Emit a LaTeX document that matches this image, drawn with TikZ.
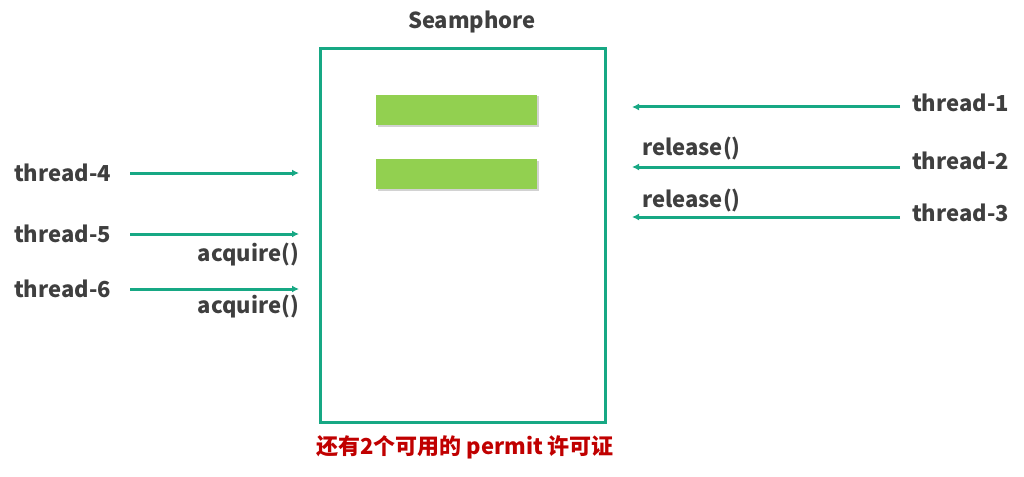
\documentclass[tikz,border=0pt]{standalone}
\usepackage{fontspec}
\setmainfont{Noto Sans CJK SC}
\usetikzlibrary{arrows.meta,shadows}
\definecolor{teal1}{HTML}{17A884}
\definecolor{bar}{HTML}{92D050}
\definecolor{txt}{HTML}{3F3F3F}
\definecolor{redt}{HTML}{C00000}
\begin{document}
\begin{tikzpicture}[x=1pt,y=-1pt,
  lbl/.style={font=\bfseries\fontsize{22}{24}\selectfont, text=txt, inner sep=0pt},
  arr/.style={draw=teal1, line width=3pt, -{Latex[length=7pt,width=7pt]}},
  permit/.style={fill=bar, draw=none, drop shadow={shadow xshift=1.5pt,shadow yshift=-1.5pt,opacity=0.35}}]
\useasboundingbox (0,0) rectangle (1024,476);
% box
\node[draw=teal1, line width=3pt, minimum width=285pt, minimum height=373pt, inner sep=0pt,
  drop shadow={shadow xshift=2pt,shadow yshift=-2pt,opacity=0.3}, fill=white] (box) at (462.5,235.5) {};
\node[lbl] (title) at (472,22) {Seamphore};
\node[permit, minimum width=161pt, minimum height=30pt, inner sep=0pt] (p1) at (456.5,110) {};
\node[permit, minimum width=161pt, minimum height=30pt, inner sep=0pt] (p2) at (456.5,174) {};
% left
\node[lbl, anchor=west] (t4) at (14,173) {thread-4};
\node[lbl, anchor=west] (t5) at (14,234) {thread-5};
\node[lbl, anchor=west] (t6) at (14,289) {thread-6};
\coordinate (e4) at (299,173);
\coordinate (e5) at (299,234);
\coordinate (e6) at (299,289);
\draw[arr] (130,173) -- (e4);
\draw[arr] (130,234) -- (e5);
\draw[arr] (130,289) -- (e6);
\node[lbl, anchor=east] (a5) at (299,255) {acquire()};
\node[lbl, anchor=east] (a6) at (299,307) {acquire()};
% right
\node[lbl, anchor=east] (t1) at (1009,103) {thread-1};
\node[lbl, anchor=east] (t2) at (1009,161) {thread-2};
\node[lbl, anchor=east] (t3) at (1009,213) {thread-3};
\coordinate (s1) at (632,107);
\coordinate (s2) at (632,167);
\coordinate (s3) at (632,217);
\draw[arr] (900,107) -- (s1);
\draw[arr] (900,167) -- (s2);
\draw[arr] (900,217) -- (s3);
\node[lbl, anchor=west] (r2) at (642,149) {release()};
\node[lbl, anchor=west] (r3) at (642,201) {release()};
% bottom
\node[lbl, text=redt] (note) at (465,447) {还有2个可用的 permit 许可证};
\end{tikzpicture}
\end{document}
